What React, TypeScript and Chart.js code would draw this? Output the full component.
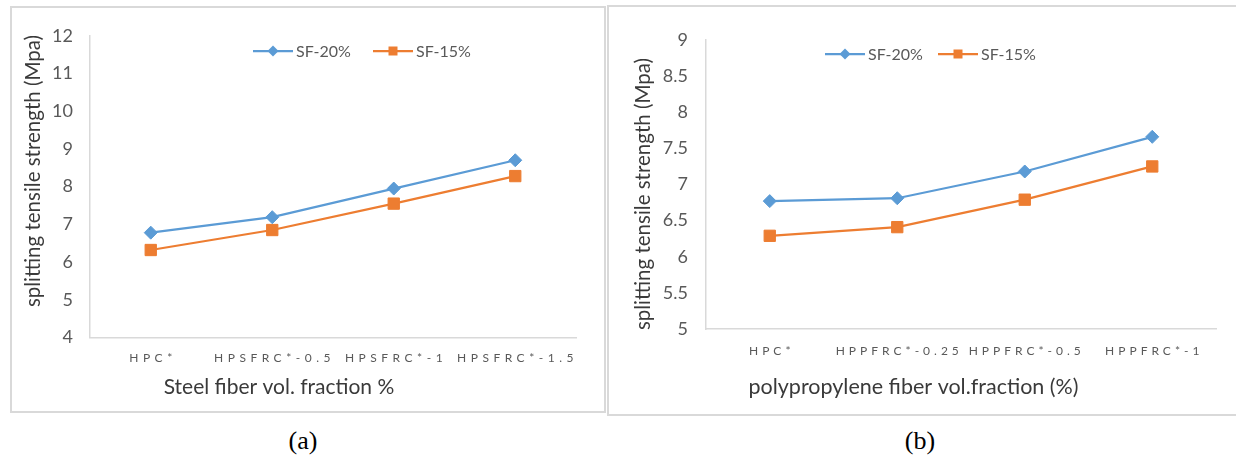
import React, { useEffect, useRef } from "react";
import { Chart, registerables } from "chart.js";

Chart.register(...registerables);

// ---------- data ----------
const seriesNames = ["SF-20%", "SF-15%"];

const steelCategories = ["HPC*", "HPSFRC*-0.5", "HPSFRC*-1", "HPSFRC*-1.5"];
const steelSF20 = [6.78, 7.19, 7.95, 8.7];
const steelSF15 = [6.32, 6.85, 7.55, 8.28];
const steelYMin = 4;
const steelYMax = 12;
const steelYStep = 1;
const steelXTitle = "Steel fiber vol. fraction %";

const ppCategories = ["HPC*", "HPPFRC*-0.25", "HPPFRC*-0.5", "HPPFRC*-1"];
const ppSF20 = [6.77, 6.81, 7.18, 7.66];
const ppSF15 = [6.29, 6.41, 6.79, 7.25];
const ppYMin = 5;
const ppYMax = 9;
const ppYStep = 0.5;
const ppXTitle = "polypropylene fiber vol.fraction (%)";

const yTitle = "splitting tensile strength (Mpa)";
const captions = ["(a)", "(b)"];

// ---------- style ----------
const FONT = "Lato, 'Open Sans', sans-serif";
const BLUE = "#5B9BD5";
const ORANGE = "#ED7D31";
const AXIS = "#d9d9d9";

type Cfg = {
  W: number;
  H: number;
  categories: string[];
  s20: number[];
  s15: number[];
  yMin: number;
  yMax: number;
  yStep: number;
  yAxisWidth: number;
  xAxisHeight: number;
  padTop: number;
  padRight: number;
  tickPad: number;
  tickY: number;
  tickSpacing: number;
  xTitle: string;
  xTitleSize: number;
  xTitlePos: [number, number];
  yTitlePos: [number, number];
  legendY: number;
  legendItems: [number, number, number][];
};

function drawMarker(ctx: CanvasRenderingContext2D, style: string, x: number, y: number, r: number, color: string) {
  ctx.fillStyle = color;
  ctx.beginPath();
  if (style === "rectRot") {
    ctx.moveTo(x - r, y);
    ctx.lineTo(x, y - r);
    ctx.lineTo(x + r, y);
    ctx.lineTo(x, y + r);
    ctx.closePath();
  } else {
    ctx.rect(x - r, y - r, 2 * r, 2 * r);
  }
  ctx.fill();
}

function makeDeco(cfg: Cfg) {
  return {
    id: "deco",
    afterDraw(chart: any) {
      const ctx: CanvasRenderingContext2D = chart.ctx;
      const xs = chart.scales.x;
      ctx.save();
      // x tick labels (letter-spaced)
      const spacing = cfg.tickSpacing;
      ctx.font = `12px ${FONT}`;
      ctx.fillStyle = "#595959";
      ctx.textAlign = "center";
      ctx.textBaseline = "middle";
      (ctx as any).letterSpacing = `${spacing}px`;
      (chart.data.labels as string[]).forEach((l, i) => {
        ctx.fillText(l, xs.getPixelForValue(i) + spacing / 2, cfg.tickY);
      });
      (ctx as any).letterSpacing = "0px";
      // x title
      ctx.font = `${cfg.xTitleSize}px ${FONT}`;
      ctx.fillStyle = "#3a3a3a";
      ctx.fillText(cfg.xTitle, cfg.xTitlePos[0], cfg.xTitlePos[1]);
      // y title
      ctx.font = `20.5px ${FONT}`;
      ctx.save();
      ctx.translate(cfg.yTitlePos[0], cfg.yTitlePos[1]);
      ctx.rotate(-Math.PI / 2);
      ctx.fillText(yTitle, 0, 0);
      ctx.restore();
      // legend
      ctx.font = `16px ${FONT}`;
      ctx.textAlign = "left";
      chart.data.datasets.forEach((ds: any, i: number) => {
        const [x0, x1, tx] = cfg.legendItems[i];
        const y = cfg.legendY;
        ctx.strokeStyle = ds.borderColor;
        ctx.lineWidth = 2.25;
        ctx.beginPath();
        ctx.moveTo(x0, y);
        ctx.lineTo(x1, y);
        ctx.stroke();
        drawMarker(ctx, ds.pointStyle, (x0 + x1) / 2, y, ds.pointStyle === "rectRot" ? 5.5 : 4.5, ds.borderColor);
        ctx.fillStyle = "#595959";
        ctx.fillText(ds.label, tx, y + 1);
      });
      ctx.restore();
    },
  };
}

function LineChart({ cfg }: { cfg: Cfg }) {
  const ref = useRef<HTMLCanvasElement | null>(null);
  useEffect(() => {
    if (!ref.current) return;
    const chart = new Chart(ref.current, {
      type: "line",
      data: {
        labels: cfg.categories,
        datasets: [
          {
            label: seriesNames[0],
            data: cfg.s20,
            borderColor: BLUE,
            backgroundColor: BLUE,
            borderWidth: 2.25,
            pointStyle: "rectRot",
            pointRadius: 6.5,
            pointBorderWidth: 1,
            tension: 0,
          },
          {
            label: seriesNames[1],
            data: cfg.s15,
            borderColor: ORANGE,
            backgroundColor: ORANGE,
            borderWidth: 2.25,
            pointStyle: "rect",
            pointRadius: 8,
            pointBorderWidth: 1,
            tension: 0,
          },
        ],
      },
      options: {
        animation: false,
        responsive: false,
        events: [],
        layout: { padding: { left: 0, top: cfg.padTop, right: cfg.padRight, bottom: 0 } },
        plugins: { legend: { display: false }, title: { display: false }, tooltip: { enabled: false } },
        scales: {
          x: {
            type: "category",
            offset: true,
            grid: { display: false, drawTicks: false },
            border: { display: true, color: AXIS, width: 1.5 },
            ticks: { display: false },
            afterFit: (s: any) => {
              s.height = cfg.xAxisHeight;
            },
          },
          y: {
            min: cfg.yMin,
            max: cfg.yMax,
            grid: { display: false, drawTicks: false },
            border: { display: true, color: AXIS, width: 1.5 },
            ticks: {
              stepSize: cfg.yStep,
              padding: cfg.tickPad,
              color: "#595959",
              font: { family: FONT, size: 18 },
              callback: (v: any) => String(v),
            },
            afterFit: (s: any) => {
              s.width = cfg.yAxisWidth;
            },
          },
        },
      },
      plugins: [makeDeco(cfg)],
    } as any);
    return () => chart.destroy();
  }, [cfg]);
  return <canvas ref={ref} width={cfg.W} height={cfg.H} style={{ display: "block" }} />;
}

const cfgA: Cfg = {
  W: 592,
  H: 403,
  categories: steelCategories,
  s20: steelSF20,
  s15: steelSF15,
  yMin: steelYMin,
  yMax: steelYMax,
  yStep: steelYStep,
  yAxisWidth: 78,
  xAxisHeight: 73.5,
  padTop: 15,
  padRight: 28,
  tickPad: 17,
  tickY: 350,
  tickSpacing: 4.5,
  xTitle: steelXTitle,
  xTitleSize: 21,
  xTitlePos: [267, 379],
  yTitlePos: [21, 163],
  legendY: 43,
  legendItems: [
    [241, 281, 284],
    [361, 401, 404],
  ],
};

const cfgB: Cfg = {
  W: 628,
  H: 407,
  categories: ppCategories,
  s20: ppSF20,
  s15: ppSF15,
  yMin: ppYMin,
  yMax: ppYMax,
  yStep: ppYStep,
  yAxisWidth: 97,
  xAxisHeight: 85,
  padTop: 33,
  padRight: 21,
  tickPad: 18,
  tickY: 343.7,
  tickSpacing: 4,
  xTitle: ppXTitle,
  xTitleSize: 21.5,
  xTitlePos: [304.5, 380],
  yTitlePos: [34, 187],
  legendY: 47,
  legendItems: [
    [216, 256, 259],
    [329, 369, 372],
  ],
};

export default function App() {
  const frame: React.CSSProperties = {
    position: "absolute",
    border: `2px solid ${AXIS}`,
    boxSizing: "border-box",
    background: "#fff",
  };
  const cap: React.CSSProperties = {
    position: "absolute",
    width: 100,
    textAlign: "center",
    fontFamily: "'Liberation Serif', 'Times New Roman', serif",
    fontSize: 26,
    lineHeight: "30px",
    color: "#000",
  };
  return (
    <div style={{ position: "absolute", left: 0, top: 0, width: 1236, height: 460, overflow: "hidden", background: "#fff" }}>
      <div style={{ ...frame, left: 10, top: 6, width: 596, height: 407 }}>
        <LineChart cfg={cfgA} />
      </div>
      <div style={{ ...frame, left: 607, top: 5, width: 632, height: 411 }}>
        <LineChart cfg={cfgB} />
      </div>
      <div style={{ ...cap, left: 253, top: 426 }}>{captions[0]}</div>
      <div style={{ ...cap, left: 870, top: 426 }}>{captions[1]}</div>
    </div>
  );
}
